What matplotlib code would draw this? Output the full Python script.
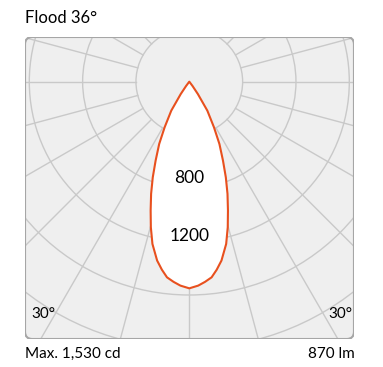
import numpy as np
import matplotlib
matplotlib.use("Agg")
from matplotlib import pyplot as plt
from matplotlib.patches import FancyBboxPatch, Circle

plt.rcParams['font.family'] = ['Lato', 'DejaVu Sans']

# light distribution (half curve, symmetric), angle from downward axis in degrees, cd
angles = [0, 2.5, 4.5, 6.5, 8.3, 10.2, 12.8, 14.8, 16.7, 18.8, 20.9, 23.1, 25.8, 28.4, 31.9, 34.7, 36.8, 38.5]
intensity = [1550, 1531, 1506, 1477, 1425, 1363, 1248, 1129, 1009, 889, 768, 644, 519, 389, 256, 113, 40, 0]

rings = [400, 800, 1200, 1600, 2000, 2400, 2800]
ring_labels = ['800', '1200']
spokes = np.arange(-180, 180, 15)

title = 'Flood 36°'
max_text = 'Max. 1,530 cd'
flux_text = '870 lm'
angle_text = '30°'

grid_col = '#c9c9c9'
curve_col = '#e8501e'

fig = plt.figure(figsize=(3.83, 3.67), dpi=100)
W, H = 383, 367
bx0, bx1, by0, by1 = 25, 354, 37, 339
ax = fig.add_axes([bx0 / W, 1 - by1 / H, (bx1 - bx0) / W, (by1 - by0) / H])
xmin, xmax, ymin, ymax = -1232, 1235, -1930, 335
ax.set_xlim(xmin, xmax)
ax.set_ylim(ymin, ymax)
ax.set_aspect('equal')
ax.axis('off')

bg = FancyBboxPatch((xmin, ymin), xmax - xmin, ymax - ymin,
                    boxstyle="round,pad=0,rounding_size=55",
                    facecolor='#efefef', edgecolor='none', zorder=0)
ax.add_patch(bg)

for r in rings:
    c = Circle((0, 0), r, fill=False, edgecolor=grid_col, lw=1.0, zorder=1)
    ax.add_patch(c)
    c.set_clip_path(bg)

for a in spokes:
    t = np.radians(a)
    ln, = ax.plot([400 * np.sin(t), 4000 * np.sin(t)],
                  [-400 * np.cos(t), -4000 * np.cos(t)],
                  color=grid_col, lw=1.0, zorder=1)
    ln.set_clip_path(bg)

# full curve, mirrored
th = np.radians(np.array(angles))
I = np.array(intensity)
x = np.concatenate([-(I * np.sin(th))[::-1], (I * np.sin(th))[1:]])
y = np.concatenate([-(I * np.cos(th))[::-1], -(I * np.cos(th))[1:]])
ax.fill(x, y, facecolor='white', edgecolor=curve_col, lw=1.5, zorder=3,
        joinstyle='round')

ax.text(0, -720, ring_labels[0], ha='center', va='center', fontsize=12.5, zorder=4)
ax.text(0, -1160, ring_labels[1], ha='center', va='center', fontsize=12.5, zorder=4)

border = FancyBboxPatch((xmin, ymin), xmax - xmin, ymax - ymin,
                        boxstyle="round,pad=0,rounding_size=55",
                        facecolor='none', edgecolor='#a6a6a6', lw=1.5, zorder=5)
ax.add_patch(border)

fig.text(25 / W, 1 - 18 / H, title, ha='left', va='center', fontsize=12)
fig.text(31 / W, 1 - 314 / H, angle_text, ha='left', va='center', fontsize=11)
fig.text(352 / W, 1 - 314 / H, angle_text, ha='right', va='center', fontsize=11)
fig.text(25 / W, 1 - 354 / H, max_text, ha='left', va='center', fontsize=11)
fig.text(355 / W, 1 - 354 / H, flux_text, ha='right', va='center', fontsize=11)

fig.savefig('out.png', dpi=100, facecolor='white')
